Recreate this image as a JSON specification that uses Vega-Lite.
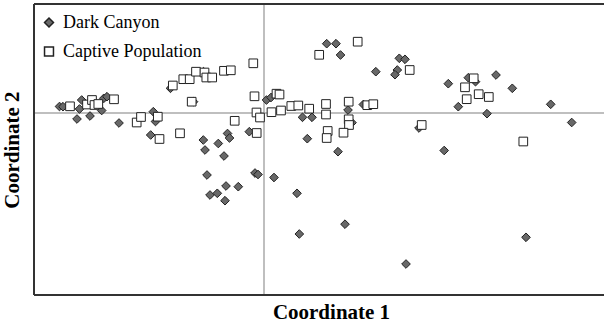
{
  "$schema": "https://vega.github.io/schema/vega-lite/v6.json",
  "width": 570,
  "height": 291,
  "autosize": {"type": "none"},
  "padding": {"left": 34, "top": 4, "right": 0, "bottom": 30},
  "background": "white",
  "config": {
    "view": {"stroke": null},
    "font": "Liberation Serif"
  },
  "data": {
    "values": [
      {"g": "Dark Canyon", "x": -2.045, "y": 0.065},
      {"g": "Dark Canyon", "x": -2.01, "y": 0.063},
      {"g": "Dark Canyon", "x": -1.87, "y": -0.06},
      {"g": "Dark Canyon", "x": -1.845, "y": 0.04},
      {"g": "Dark Canyon", "x": -1.823, "y": 0.13},
      {"g": "Dark Canyon", "x": -1.74, "y": -0.03},
      {"g": "Dark Canyon", "x": -1.623, "y": 0.025},
      {"g": "Dark Canyon", "x": -1.602, "y": 0.147},
      {"g": "Dark Canyon", "x": -1.57, "y": 0.163},
      {"g": "Dark Canyon", "x": -1.45, "y": -0.1},
      {"g": "Dark Canyon", "x": -1.107, "y": 0.013},
      {"g": "Dark Canyon", "x": -1.085, "y": -0.085},
      {"g": "Dark Canyon", "x": -1.133, "y": -0.22},
      {"g": "Dark Canyon", "x": -0.935, "y": 0.247},
      {"g": "Dark Canyon", "x": -0.705, "y": 0.113},
      {"g": "Dark Canyon", "x": -0.605, "y": 0.413},
      {"g": "Dark Canyon", "x": -0.607, "y": -0.27},
      {"g": "Dark Canyon", "x": -0.59, "y": -0.37},
      {"g": "Dark Canyon", "x": -0.457, "y": -0.305},
      {"g": "Dark Canyon", "x": -0.365, "y": -0.205},
      {"g": "Dark Canyon", "x": -0.345, "y": -0.25},
      {"g": "Dark Canyon", "x": -0.4, "y": -0.43},
      {"g": "Dark Canyon", "x": -0.147, "y": -0.187},
      {"g": "Dark Canyon", "x": -0.57, "y": -0.62},
      {"g": "Dark Canyon", "x": -0.09, "y": -0.6},
      {"g": "Dark Canyon", "x": -0.06, "y": -0.615},
      {"g": "Dark Canyon", "x": -0.38, "y": -0.73},
      {"g": "Dark Canyon", "x": -0.257, "y": -0.737},
      {"g": "Dark Canyon", "x": -0.54, "y": -0.82},
      {"g": "Dark Canyon", "x": -0.467, "y": -0.803},
      {"g": "Dark Canyon", "x": -0.39, "y": -0.877},
      {"g": "Dark Canyon", "x": 0.1, "y": -0.645},
      {"g": "Dark Canyon", "x": 0.33, "y": -0.803},
      {"g": "Dark Canyon", "x": 0.353, "y": -1.21},
      {"g": "Dark Canyon", "x": 0.433, "y": -0.257},
      {"g": "Dark Canyon", "x": 0.025, "y": 0.13},
      {"g": "Dark Canyon", "x": 0.07, "y": 0.155},
      {"g": "Dark Canyon", "x": 0.385, "y": -0.043},
      {"g": "Dark Canyon", "x": 0.48, "y": -0.043},
      {"g": "Dark Canyon", "x": 0.84, "y": 0.03},
      {"g": "Dark Canyon", "x": 0.88, "y": -0.097},
      {"g": "Dark Canyon", "x": 0.74, "y": -0.387},
      {"g": "Dark Canyon", "x": 0.81, "y": -1.112},
      {"g": "Dark Canyon", "x": 0.627, "y": 0.693},
      {"g": "Dark Canyon", "x": 0.72, "y": 0.693},
      {"g": "Dark Canyon", "x": 0.765, "y": 0.58},
      {"g": "Dark Canyon", "x": 0.993, "y": 0.085},
      {"g": "Dark Canyon", "x": 1.118, "y": 0.413},
      {"g": "Dark Canyon", "x": 1.353, "y": 0.547},
      {"g": "Dark Canyon", "x": 1.41, "y": 0.537},
      {"g": "Dark Canyon", "x": 1.333, "y": 0.43},
      {"g": "Dark Canyon", "x": 1.31, "y": 0.383},
      {"g": "Dark Canyon", "x": 1.55, "y": -0.15},
      {"g": "Dark Canyon", "x": 1.843, "y": 0.293},
      {"g": "Dark Canyon", "x": 2.043, "y": 0.353},
      {"g": "Dark Canyon", "x": 2.115, "y": 0.313},
      {"g": "Dark Canyon", "x": 1.943, "y": 0.063},
      {"g": "Dark Canyon", "x": 2.23, "y": -0.007},
      {"g": "Dark Canyon", "x": 2.32, "y": 0.38},
      {"g": "Dark Canyon", "x": 2.483, "y": 0.247},
      {"g": "Dark Canyon", "x": 2.867, "y": 0.087},
      {"g": "Dark Canyon", "x": 3.077, "y": -0.095},
      {"g": "Dark Canyon", "x": 1.802, "y": -0.375},
      {"g": "Dark Canyon", "x": 2.62, "y": -1.243},
      {"g": "Dark Canyon", "x": 1.42, "y": -1.51},
      {"g": "Captive Population", "x": -1.94, "y": 0.067},
      {"g": "Captive Population", "x": -1.77, "y": 0.085},
      {"g": "Captive Population", "x": -1.72, "y": 0.13},
      {"g": "Captive Population", "x": -1.695, "y": 0.08},
      {"g": "Captive Population", "x": -1.657, "y": 0.09},
      {"g": "Captive Population", "x": -1.5, "y": 0.137},
      {"g": "Captive Population", "x": -1.273, "y": -0.095},
      {"g": "Captive Population", "x": -1.23, "y": -0.04},
      {"g": "Captive Population", "x": -1.062, "y": -0.037},
      {"g": "Captive Population", "x": -1.045, "y": -0.26},
      {"g": "Captive Population", "x": -0.84, "y": -0.203},
      {"g": "Captive Population", "x": -0.723, "y": 0.113},
      {"g": "Captive Population", "x": -0.912, "y": 0.275},
      {"g": "Captive Population", "x": -0.807, "y": 0.338},
      {"g": "Captive Population", "x": -0.743, "y": 0.338},
      {"g": "Captive Population", "x": -0.68, "y": 0.413},
      {"g": "Captive Population", "x": -0.595, "y": 0.405},
      {"g": "Captive Population", "x": -0.577, "y": 0.355},
      {"g": "Captive Population", "x": -0.518, "y": 0.355},
      {"g": "Captive Population", "x": -0.4, "y": 0.422},
      {"g": "Captive Population", "x": -0.332, "y": 0.427},
      {"g": "Captive Population", "x": -0.107, "y": 0.497},
      {"g": "Captive Population", "x": -0.293, "y": -0.078},
      {"g": "Captive Population", "x": -0.095, "y": 0.167},
      {"g": "Captive Population", "x": -0.075, "y": 0.005},
      {"g": "Captive Population", "x": -0.04, "y": -0.045},
      {"g": "Captive Population", "x": -0.073, "y": -0.2},
      {"g": "Captive Population", "x": 0.125, "y": 0.193},
      {"g": "Captive Population", "x": 0.155, "y": 0.185},
      {"g": "Captive Population", "x": 0.075, "y": 0.008},
      {"g": "Captive Population", "x": 0.17, "y": 0.025},
      {"g": "Captive Population", "x": 0.273, "y": 0.07},
      {"g": "Captive Population", "x": 0.343, "y": 0.075},
      {"g": "Captive Population", "x": 0.452, "y": 0.043},
      {"g": "Captive Population", "x": 0.62, "y": 0.09},
      {"g": "Captive Population", "x": 0.62, "y": -0.015},
      {"g": "Captive Population", "x": 0.847, "y": 0.113},
      {"g": "Captive Population", "x": 0.847, "y": -0.063},
      {"g": "Captive Population", "x": 0.85, "y": -0.12},
      {"g": "Captive Population", "x": 0.795, "y": -0.197},
      {"g": "Captive Population", "x": 0.637, "y": -0.18},
      {"g": "Captive Population", "x": 0.627, "y": -0.25},
      {"g": "Captive Population", "x": 0.552, "y": 0.582},
      {"g": "Captive Population", "x": 0.937, "y": 0.713},
      {"g": "Captive Population", "x": 1.033, "y": 0.078},
      {"g": "Captive Population", "x": 1.093, "y": 0.088},
      {"g": "Captive Population", "x": 1.457, "y": 0.43},
      {"g": "Captive Population", "x": 1.577, "y": -0.12},
      {"g": "Captive Population", "x": 2.097, "y": 0.347},
      {"g": "Captive Population", "x": 2.01, "y": 0.257},
      {"g": "Captive Population", "x": 2.027, "y": 0.138},
      {"g": "Captive Population", "x": 2.147, "y": 0.188},
      {"g": "Captive Population", "x": 2.248, "y": 0.16},
      {"g": "Captive Population", "x": 2.593, "y": -0.285}
    ]
  },
  "layer": [
    {
      "data": {"values": [{}]},
      "mark": {"type": "rule", "color": "#aaaaaa", "strokeWidth": 1.5},
      "encoding": {
        "x": {"datum": 0, "type": "quantitative", "scale": {"domain": [-2.3, 3.4], "nice": false, "zero": false}}
      }
    },
    {
      "data": {"values": [{}]},
      "mark": {"type": "rule", "color": "#aaaaaa", "strokeWidth": 1.5},
      "encoding": {
        "y": {"datum": 0, "type": "quantitative", "scale": {"domain": [-1.82, 1.09], "nice": false, "zero": false}}
      }
    },
    {
      "mark": {"type": "point", "filled": true, "stroke": "#222222", "strokeWidth": 1, "opacity": 1, "size": 75},
      "encoding": {
        "x": {
          "field": "x", "type": "quantitative",
          "scale": {"domain": [-2.3, 3.4], "nice": false, "zero": false},
          "axis": {"title": "Coordinate 1", "labels": false, "ticks": false, "domain": false, "grid": false,
                   "titleFont": "Liberation Serif", "titleFontSize": 21, "titleFontWeight": "bold", "titleColor": "#000000",
                   "titlePadding": 6, "titleX": 297}
        },
        "y": {
          "field": "y", "type": "quantitative",
          "scale": {"domain": [-1.82, 1.09], "nice": false, "zero": false},
          "axis": {"title": "Coordinate 2", "labels": false, "ticks": false, "domain": false, "grid": false,
                   "titleFont": "Liberation Serif", "titleFontSize": 21, "titleFontWeight": "bold", "titleColor": "#000000",
                   "titlePadding": 12}
        },
        "shape": {
          "field": "g", "type": "nominal", "title": null,
          "scale": {"domain": ["Dark Canyon", "Captive Population"], "range": ["diamond", "square"]},
          "legend": {"orient": "none", "legendX": 6, "legendY": 9.5, "padding": 0,
                     "labelFont": "Liberation Serif", "labelFontSize": 18, "labelColor": "#000000",
                     "labelOffset": 5, "rowPadding": 11, "symbolSize": 80, "labelLimit": 300,
                     "encode": {"symbols": {"update": {"stroke": {"value": "#222222"}, "strokeWidth": {"value": 1}, "size": {"value": 80}, "opacity": {"value": 1}}}}}
        },
        "fill": {
          "field": "g", "type": "nominal", "title": null,
          "scale": {"domain": ["Dark Canyon", "Captive Population"], "range": ["#686868", "#ffffff"]},
          "legend": {"orient": "none", "legendX": 6, "legendY": 9.5, "padding": 0,
                     "labelFont": "Liberation Serif", "labelFontSize": 18, "labelColor": "#000000",
                     "labelOffset": 5, "rowPadding": 11, "symbolSize": 80, "labelLimit": 300,
                     "encode": {"symbols": {"update": {"stroke": {"value": "#222222"}, "strokeWidth": {"value": 1}, "size": {"value": 80}, "opacity": {"value": 1}}}}}
        }
      }
    },
    {
      "data": {"values": [{}]},
      "mark": {"type": "rule", "color": "#333333", "strokeWidth": 2},
      "encoding": {
        "x": {"datum": -2.3, "type": "quantitative"}
      }
    },
    {
      "data": {"values": [{}]},
      "mark": {"type": "rule", "color": "#333333", "strokeWidth": 2},
      "encoding": {
        "y": {"datum": 1.09, "type": "quantitative"}
      }
    },
    {
      "data": {"values": [{}]},
      "mark": {"type": "rule", "color": "#333333", "strokeWidth": 2},
      "encoding": {
        "y": {"datum": -1.82, "type": "quantitative"}
      }
    }
  ]
}
